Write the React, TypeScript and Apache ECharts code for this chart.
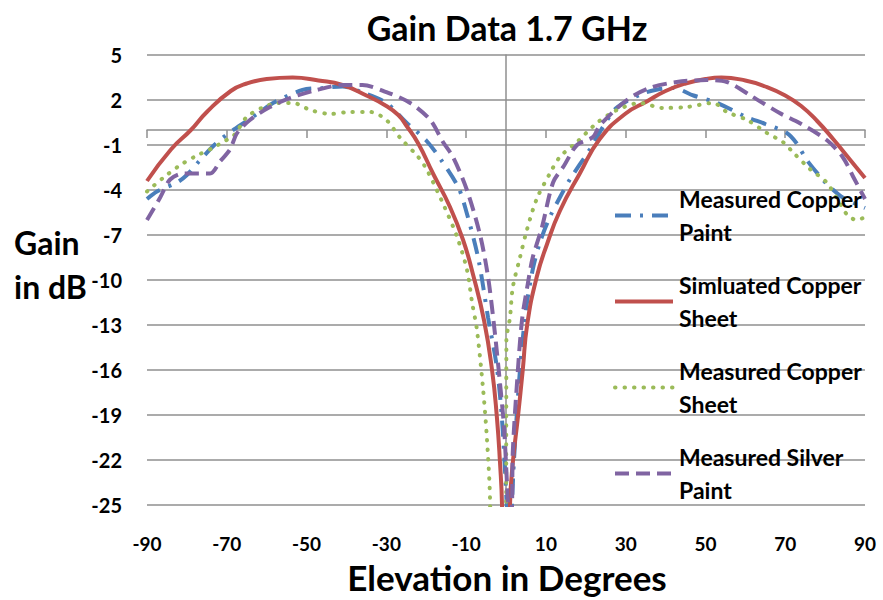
import React, { useEffect, useRef } from 'react';
import * as echarts from 'echarts';

// ---- tick labels ----
const xTicks = [-90, -70, -50, -30, -10, 10, 30, 50, 70, 90];
const yTicks = [5, 2, -1, -4, -7, -10, -13, -16, -19, -22, -25];

// ---- series names ----
const seriesNames = [
  'Measured Copper Paint',
  'Simluated Copper Sheet',
  'Measured Copper Sheet',
  'Measured Silver Paint',
];
const legendText: Record<string, string> = {
  'Measured Copper Paint': 'Measured Copper\nPaint',
  'Simluated Copper Sheet': 'Simluated Copper\nSheet',
  'Measured Copper Sheet': 'Measured Copper\nSheet',
  'Measured Silver Paint': 'Measured Silver\nPaint',
};

// ---- Measured Copper Paint (blue, dash-dot) ----
const copperPaintDeg = [-90, -87.5, -82.5, -80, -77, -73.5, -70, -66.7, -61.7, -58.4, -51, -46, -41, -36, -30, -25, -20, -16, -12, -10.3, -7, -4.5, -2.3, -1, 0.2, 0.8, 2, 3.5, 5, 6.7, 8.5, 11, 13.5, 16, 21, 24.3, 27.8, 34, 38, 42, 47, 53, 60, 65, 70.4, 72.9, 75.4, 79.4, 81.2, 84.4, 90];
const copperPaintGain = [-4.6, -4.1, -3.5, -3.0, -2.1, -1.1, -0.3, 0.3, 1.2, 1.8, 2.67, 2.8, 2.9, 2.5, 1.8, 0.5, -0.7, -2.1, -3.8, -5.1, -8.5, -12.5, -15.8, -19.3, -25, -28, -22, -16, -12, -9.3, -7.5, -5.8, -4.5, -3.3, -1.3, 0.2, 1.5, 2.4, 2.7, 2.8, 2.3, 1.8, 0.9, 0.4, -0.2, -0.9, -2.0, -3.3, -3.8, -4.5, -5.2];

// ---- Simluated Copper Sheet (red, solid) ----
const simSheetDeg = [-90, -84, -79, -75, -69, -65, -60, -53.5, -47, -41, -35, -30, -27, -25, -22, -18.3, -14.1, -10.8, -8.3, -5.5, -3.5, -2.3, -1.5, -1, 0, 1, 1.7, 3, 4.2, 5.3, 7.7, 10.3, 13.5, 18.5, 23.5, 30, 35.3, 40, 45, 50, 54, 60, 65, 70, 74, 78, 82, 86, 90];
const simSheetGain = [-3.4, -1.3, 0, 1.2, 2.6, 3.1, 3.4, 3.5, 3.3, 3.0, 2.3, 1.6, 1.0, 0.3, -0.9, -2.9, -5.1, -7.3, -9.6, -12.7, -16, -19.1, -22.2, -25, -40, -25, -22.2, -19.1, -16, -13, -9.8, -7.6, -5.4, -2.9, -0.6, 1.1, 1.9, 2.6, 3.1, 3.4, 3.5, 3.3, 2.9, 2.3, 1.6, 0.6, -0.6, -1.9, -3.2];

// ---- Measured Copper Sheet (green, dotted) ----
const copperSheetDeg = [-90, -86, -82, -77.5, -73.5, -71, -68.4, -67, -65, -61, -57, -53.4, -49, -44, -39, -34, -30, -26.6, -22, -19.8, -15.8, -12.3, -9.8, -8.5, -7.3, -5.8, -4.8, -4, -3.5, 0, 0.1, 1, 1.7, 3.5, 5.2, 7.7, 11, 13.5, 17.8, 22.8, 27.8, 33.6, 39.3, 45.3, 51.9, 55.4, 60.4, 65.4, 69.4, 72, 76.2, 80.4, 83.7, 85.7, 88, 90];
const copperSheetGain = [-4.1, -3.2, -2.4, -1.7, -1.2, -0.8, -0.4, 0.1, 0.87, 1.5, 1.8, 1.8, 1.33, 1.07, 1.2, 1.2, 0.67, -0.5, -1.8, -2.67, -4.9, -7.1, -9.3, -11.5, -13.3, -17.1, -20.5, -24.7, -40, -40, -14, -12.5, -10.5, -8.5, -6.7, -4.6, -2.9, -1.8, -0.8, 0.47, 1.33, 1.8, 1.47, 1.53, 1.8, 1.2, 0.67, -0.2, -0.8, -1.5, -2.6, -3.5, -4.9, -5.7, -6.0, -5.8];

// ---- Measured Silver Paint (purple, dashed) ----
const silverPaintDeg = [-90, -86.7, -84.2, -81, -74.2, -71.7, -69.2, -67.4, -64.2, -59.2, -54.2, -47.4, -41, -36, -30, -24, -19, -15.8, -13.3, -9.8, -6.5, -4.5, -2.8, -1.5, -0.5, 0.5, 1, 1.5, 1.7, 2.7, 4, 5.5, 6.7, 9, 11.8, 14.5, 17.8, 21.8, 23.5, 30.3, 36, 42.8, 50.3, 55.4, 61.9, 68.6, 73.7, 80.4, 84.4, 87, 90];
const silverPaintGain = [-6.0, -4.5, -3.3, -2.9, -2.9, -2.1, -1.3, -0.2, 0.67, 1.53, 2.13, 2.67, 3.0, 3.0, 2.53, 1.8, 0.67, -0.8, -1.8, -4.0, -7.0, -9.8, -13.5, -16.9, -19.8, -24.9, -27, -25, -21.5, -17.1, -12.7, -10.2, -8.5, -6.5, -3.5, -2.4, -1.0, -0.47, 0.3, 2.0, 2.8, 3.2, 3.33, 3.2, 2.2, 1.13, 0.45, -0.67, -1.8, -3.1, -4.6];

const zip = (xs: number[], ys: number[]) => xs.map((x, i) => [x, ys[i]]);

const FONT = 'Lato';
const GRID_GRAY = '#8f8f8f';

export default function App() {
  const ref = useRef<HTMLDivElement>(null);

  useEffect(() => {
    if (!ref.current) return;
    const chart = echarts.init(ref.current, undefined, { renderer: 'svg' });

    const lineSeries = (name: string, data: number[][], color: string, type: any, width: number, cap: any, smooth: number) => ({
      name,
      type: 'line',
      data,
      xAxisIndex: 0,
      yAxisIndex: 0,
      showSymbol: false,
      symbol: 'none',
      smooth,
      clip: true,
      lineStyle: { color, width, type, cap },
      itemStyle: { color },
    });

    chart.setOption({
      animation: false,
      backgroundColor: '#ffffff',
      grid: { left: 147, right: 18, top: 55, bottom: 95, outerBoundsMode: 'none', containLabel: false },
      graphic: [
        {
          type: 'text',
          x: 507,
          y: 27,
          style: {
            text: 'Gain Data 1.7 GHz',
            fontFamily: FONT,
            fontWeight: 'bold',
            fontSize: 34,
            fill: '#000',
            align: 'center',
            verticalAlign: 'middle',
          },
        },
        {
          type: 'text',
          x: 14,
          y: 264,
          style: {
            text: 'Gain\nin dB',
            fontFamily: FONT,
            fontWeight: 'bold',
            fontSize: 32,
            lineHeight: 44,
            fill: '#000',
            align: 'left',
            verticalAlign: 'middle',
          },
        },
        {
          type: 'text',
          x: 507,
          y: 577,
          style: {
            text: 'Elevation in Degrees',
            fontFamily: FONT,
            fontWeight: 'bold',
            fontSize: 35,
            fill: '#000',
            align: 'center',
            verticalAlign: 'middle',
          },
        },
      ],
      legend: {
        orient: 'vertical',
        left: 608,
        top: 161,
        itemWidth: 58,
        itemHeight: 14,
        itemGap: -13,
        data: seriesNames,
        formatter: (n: string) => legendText[n] || n,
        itemStyle: { opacity: 0, color: 'rgba(0,0,0,0)', borderColor: 'rgba(0,0,0,0)', borderWidth: 0 },
        lineStyle: { width: 4 },
        textStyle: {
          fontFamily: FONT,
          fontWeight: 'bold',
          fontSize: 23,
          lineHeight: 33,
          color: '#000',
          padding: [33, 0, 0, 1],
        },
      },
      xAxis: [
        {
          type: 'value',
          min: -90,
          max: 90,
          position: 'bottom',
          axisLine: { show: false, onZero: false },
          axisTick: { show: false, customValues: xTicks },
          splitLine: { show: false },
          axisLabel: {
            customValues: xTicks,
            margin: 29,
            fontFamily: FONT,
            fontWeight: 'bold',
            fontSize: 19,
            color: '#000',
          },
        },
        {
          type: 'value',
          min: -90,
          max: 90,
          position: 'top',
          axisLine: { show: true, onZero: true, onZeroAxisIndex: 0, lineStyle: { color: GRID_GRAY, width: 1.5 } },
          axisTick: { show: true, inside: true, length: 8, customValues: xTicks, lineStyle: { color: GRID_GRAY, width: 1.5 } },
          axisLabel: { show: false },
          splitLine: { show: false },
        },
      ],
      yAxis: [
        {
          type: 'value',
          min: -25,
          max: 5,
          position: 'left',
          axisLine: { show: false, onZero: false },
          axisTick: { show: false, customValues: yTicks },
          axisLabel: {
            customValues: yTicks,
            margin: 25,
            fontFamily: FONT,
            fontWeight: 'bold',
            fontSize: 20,
            color: '#000',
          },
          splitLine: { show: true, lineStyle: { color: GRID_GRAY, width: 1.5 } },
        },
        {
          type: 'value',
          min: -25,
          max: 5,
          position: 'right',
          axisLine: { show: true, onZero: true, onZeroAxisIndex: 0, lineStyle: { color: GRID_GRAY, width: 1.5 } },
          axisTick: { show: false },
          axisLabel: { show: false },
          splitLine: { show: false },
        },
      ],
      series: [
        lineSeries(seriesNames[0], zip(copperPaintDeg, copperPaintGain), '#4A7EBB', [16, 9, 3, 9], 4, 'butt', 0.3),
        lineSeries(seriesNames[1], zip(simSheetDeg, simSheetGain), '#C0504D', 'solid', 4, 'butt', 0.5),
        lineSeries(seriesNames[2], zip(copperSheetDeg, copperSheetGain), '#9BBB59', [0.5, 9], 4, 'round', 0.3),
        lineSeries(seriesNames[3], zip(silverPaintDeg, silverPaintGain), '#8064A2', [14, 7], 4, 'butt', 0.3),
      ],
    });

    return () => chart.dispose();
  }, []);

  return (
    <div
      ref={ref}
      style={{ position: 'fixed', left: 0, top: 0, width: 883, height: 600, background: '#fff' }}
    />
  );
}
